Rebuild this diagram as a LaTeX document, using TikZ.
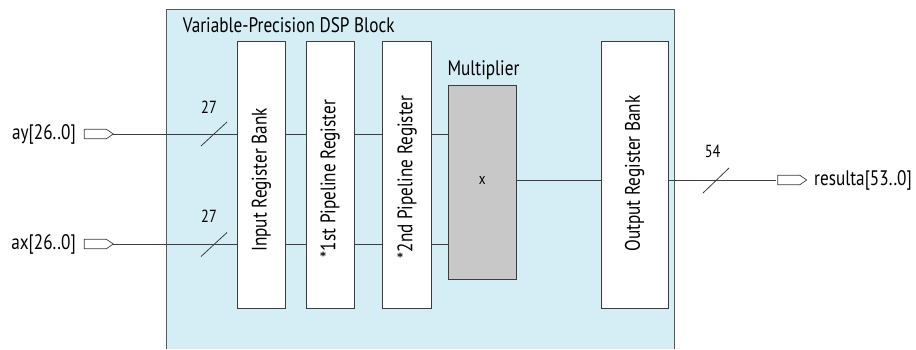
\documentclass[tikz,border=0pt]{standalone}
\usepackage{fontspec}
\setmainfont{PT Sans}[FakeStretch=0.82]
\definecolor{blockblue}{HTML}{D5EDF5}
\definecolor{multgray}{HTML}{C8C8C8}
\definecolor{wire}{HTML}{3C3C3C}
\begin{document}
\begin{tikzpicture}[x=1pt,y=-1pt,
  wirepath/.style={draw=wire, line width=0.9pt},
  tick/.style={draw=wire, line width=0.8pt},
  regbox/.style={draw=wire, fill=white, line width=0.9pt, inner sep=0pt,
    font=\fontsize{21}{24}\selectfont},
  portshape/.style={draw=wire, fill=white, line width=0.7pt, line join=miter},
  lbl/.style={font=\fontsize{21}{24}\selectfont, text=black, inner sep=0pt},
  buswidth/.style={font=\fontsize{17.5}{20}\selectfont, inner sep=0pt}]
\useasboundingbox (0,0) rectangle (916,349);

% DSP block background (open at the bottom)
\fill[blockblue] (166.5,9.5) rectangle (674.5,349);
\draw[draw=wire!85, line width=1.3pt] (166.5,349) -- (166.5,9.5) -- (674.5,9.5) -- (674.5,349);
\node[lbl, anchor=base west] (title) at (182.7,32) {Variable-Precision DSP Block};

% Ports: the named coordinate is the tip of each port symbol
\coordinate (ayport) at (113.3,134);
\coordinate (axport) at (113.3,244);
\coordinate (resport) at (806.7,180);
\coordinate (resin) at (776,180);
\foreach \p in {ayport,axport,resport}
  \draw[portshape] (\p) -- ++(-7,-4.8) -- ++(-22,0) -- ++(0,9.6) -- ++(22,0) -- cycle;
\node[lbl, anchor=east] (ayname) at (76,134) {ay[26..0]};
\node[lbl, anchor=east] (axname) at (76,244) {ax[26..0]};
\node[lbl, anchor=west] (resname) at (814,180) {resulta[53..0]};

% Register stages
\node[regbox, minimum width=48.4pt, minimum height=266.6pt] (inreg) at (261.5,175)
  {\rotatebox{90}{Input Register Bank\hspace{10pt}}};
\node[regbox, minimum width=48.3pt, minimum height=266.6pt] (reg1) at (330.2,175)
  {\rotatebox{90}{*1st Pipeline Register\hspace{7pt}}};
\node[regbox, minimum width=49pt, minimum height=266.6pt] (reg2) at (407.2,175)
  {\rotatebox{90}{*2nd Pipeline Register\hspace{4pt}}};
\node[regbox, fill=multgray, minimum width=67.7pt, minimum height=194pt,
  font=\fontsize{16}{18}\selectfont] (mult) at (482.2,182) {\raisebox{4pt}{x}\hspace{3pt}};
\node[lbl, anchor=base west] (multname) at (447.3,75.7) {Multiplier};
\node[regbox, minimum width=67.3pt, minimum height=266.6pt] (outreg) at (634.7,175)
  {\rotatebox{90}{\hspace{3pt}Output Register Bank}};

% Wires
\coordinate (outy) at (0,180);
\draw[wirepath] (ayport) -- (ayport -| inreg.west);
\draw[wirepath] (ayport -| inreg.east) -- (ayport -| reg1.west);
\draw[wirepath] (ayport -| reg1.east) -- (ayport -| reg2.west);
\draw[wirepath] (ayport -| reg2.east) -- (ayport -| mult.west);
\draw[wirepath] (axport) -- (axport -| inreg.west);
\draw[wirepath] (axport -| inreg.east) -- (axport -| reg1.west);
\draw[wirepath] (axport -| reg1.east) -- (axport -| reg2.west);
\draw[wirepath] (axport -| reg2.east) -- (axport -| mult.west);
\draw[wirepath] (mult.east |- outy) -- (outreg.west |- outy);
\draw[wirepath] (outreg.east |- outy) -- (resin);

% Bus-width ticks
\coordinate (ayslash) at (214,134);
\coordinate (axslash) at (214,244.5);
\coordinate (resslash) at (716,180.5);
\draw[tick] ([shift={(-13,12)}]ayslash) -- ([shift={(13,-12)}]ayslash);
\draw[tick] ([shift={(-13,12)}]axslash) -- ([shift={(13,-12)}]axslash);
\draw[tick] ([shift={(-13,12.5)}]resslash) -- ([shift={(13,-12.5)}]resslash);
\node[buswidth] (aywidth) at (209,107) {27};
\node[buswidth] (axwidth) at (209,216.7) {27};
\node[buswidth] (reswidth) at (712.7,151.7) {54};
\end{tikzpicture}
\end{document}
